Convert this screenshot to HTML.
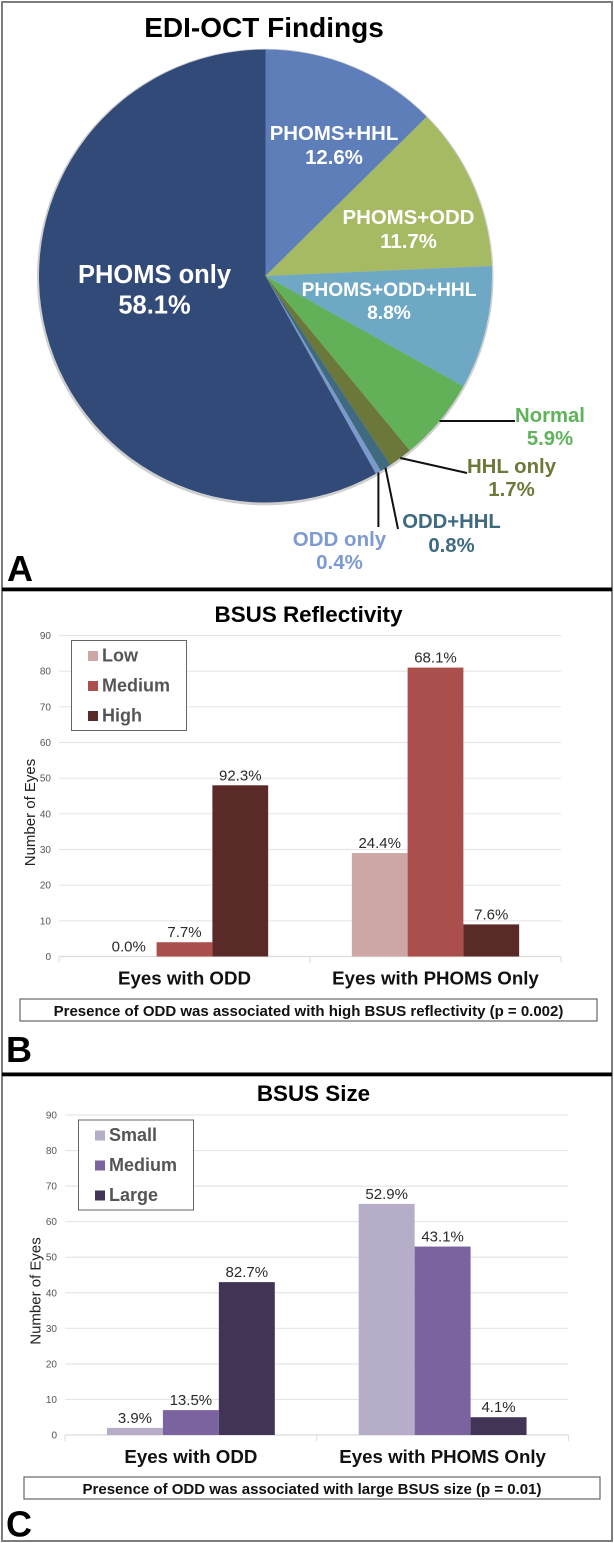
<!DOCTYPE html>
<html lang="en">
<head>
<meta charset="utf-8">
<title>EDI-OCT Findings and BSUS Charts</title>
<style>
html,body{margin:0;padding:0;background:#fff;width:614px;height:1543px;overflow:hidden}
svg{display:block;font-family:"Liberation Sans",sans-serif}
</style>
</head>
<body>
<svg id="figure" xmlns="http://www.w3.org/2000/svg" width="614" height="1543" viewBox="0 0 614 1543"></svg>
<script>
/* Pie data */
const pieNames = ["PHOMS+HHL","PHOMS+ODD","PHOMS+ODD+HHL","Normal","HHL only","ODD+HHL","ODD only","PHOMS only"];
const pieValues = [12.6,11.7,8.8,5.9,1.7,0.8,0.4,58.1];
const pieLabels = ["12.6%","11.7%","8.8%","5.9%","1.7%","0.8%","0.4%","58.1%"];

/* Panel B data */
const reflectivityCategories = ["Eyes with ODD","Eyes with PHOMS Only"];
const reflectivitySeriesNames = ["Low","Medium","High"];
const reflectivityLow = [0,29];
const reflectivityMedium = [4,81];
const reflectivityHigh = [48,9];
const reflectivityLowLabels = ["0.0%","24.4%"];
const reflectivityMediumLabels = ["7.7%","68.1%"];
const reflectivityHighLabels = ["92.3%","7.6%"];

/* Panel C data */
const sizeCategories = ["Eyes with ODD","Eyes with PHOMS Only"];
const sizeSeriesNames = ["Small","Medium","Large"];
const sizeSmall = [2,65];
const sizeMedium = [7,53];
const sizeLarge = [43,5];
const sizeSmallLabels = ["3.9%","52.9%"];
const sizeMediumLabels = ["13.5%","43.1%"];
const sizeLargeLabels = ["82.7%","4.1%"];

/* Shared axis */
const yTicks = [0,10,20,30,40,50,60,70,80,90];

const svg = document.getElementById('figure');
const NS = 'http://www.w3.org/2000/svg';

function make(tag, name, attrs, text) {
  const el = document.createElementNS(NS, tag);
  
  
  for (const k in attrs) el.setAttribute(k, attrs[k]);
  if (text !== undefined) el.textContent = text;
  svg.appendChild(el);
  return el;
}
function label(name, x, y, str, size, fill, weight, anchor) {
  return make('text', name, {x:x, y:y, 'font-size':size, fill:fill, 'font-weight':weight||'normal', 'text-anchor':anchor||'middle'}, str);
}

/* Frame */
make('rect','figure-frame',{x:2,y:2,width:610,height:1539,fill:'#fff',stroke:'#7d7d7d',"stroke-width":2});
make('rect','divider-a-b',{x:2,y:587.5,width:610,height:3.8,fill:'#000'});
make('rect','divider-b-c',{x:2,y:1072.5,width:610,height:3.8,fill:'#000'});
label('panel-letter-a',7,581,'A',36,'#000','bold','start');
label('panel-letter-b',6,1062,'B',36,'#000','bold','start');
label('panel-letter-c',6,1536.5,'C',36,'#000','bold','start');

/* Pie */
const cx = 265.5, cy = 276, radius = 226.5;
const pieColors = ['#5d7eb9','#a5ba62','#6ea8c5','#62b058','#6c7839','#3f6a80','#7a9acb','#324a78'];
const pieTotal = pieValues.reduce((a,b)=>a+b,0);
function angleOf(v){ return v / pieTotal * Math.PI * 2; }
function pointAt(a, r){ return [cx + r * Math.sin(a), cy - r * Math.cos(a)]; }

label('pie-title',264,37,'EDI-OCT Findings',28,'#000','bold');
make('circle','pie-rim',{cx:cx-0.3,cy:cy+1,r:radius+1.8,fill:'#cfcfcf'});
let running = 0;
const midAngles = [];
pieValues.forEach((v,i)=>{
  const a0 = angleOf(running), a1 = angleOf(running + v);
  running += v;
  midAngles.push((a0+a1)/2);
  const p0 = pointAt(a0,radius), p1 = pointAt(a1,radius);
  const large = (a1-a0) > Math.PI ? 1 : 0;
  make('path','pie-slice-'+pieNames[i].toLowerCase().replace(/[+ ]/g,'-'),{
    d:`M${cx} ${cy}L${p0[0]} ${p0[1]}A${radius} ${radius} 0 ${large} 1 ${p1[0]} ${p1[1]}Z`,
    fill:pieColors[i]
  });
});

/* Pie labels inside slices */
const insideLayout = {
  0:{x:334,y1:140,y2:164,s:20.4},
  1:{x:408.5,y1:224,y2:248,s:20.4},
  2:{x:389,y1:296,y2:319,s:19.2},
  7:{x:154.5,y1:283,y2:313.5,s:25.5}
};
Object.keys(insideLayout).forEach(k=>{
  const l = insideLayout[k], i = +k, slug = pieNames[i].toLowerCase().replace(/[+ ]/g,'-');
  label('pie-label-'+slug,l.x,l.y1,pieNames[i],l.s,'#fff','bold');
  label('pie-value-'+slug,l.x,l.y2,pieLabels[i],l.s,'#fff','bold');
});

/* Outside labels and leader lines */
const outsideLayout = {
  3:{x:550,y1:422,y2:445,s:20.3,color:'#5fb35a',end:[515,421],r:1.0},
  4:{x:511.5,y1:473,y2:496,s:20.4,color:'#6b7a3a',end:[467,473],r:1.0},
  5:{x:451.5,y1:528,y2:552,s:20.3,color:'#3f6a80',end:[398,529],r:0.998},
  6:{x:339.5,y1:546,y2:569,s:20.5,color:'#7d9bd0',end:[378.4,527],r:1.0}
};
Object.keys(outsideLayout).forEach(k=>{
  const l = outsideLayout[k], i = +k, slug = pieNames[i].toLowerCase().replace(/[+ ]/g,'-');
  const s = pointAt(midAngles[i], radius * l.r);
  make('line','leader-'+slug,{x1:i===6?l.end[0]:s[0],y1:i===3?l.end[1]:s[1],x2:l.end[0],y2:l.end[1],stroke:'#111','stroke-width':2});
  label('pie-label-'+slug,l.x,l.y1,pieNames[i],l.s,l.color,'bold');
  label('pie-value-'+slug,l.x,l.y2,pieLabels[i],l.s,l.color,'bold');
});

/* Bar chart renderer */
function drawBars(cfg){
  const p = cfg.prefix;
  const yScale = v => cfg.y0 - (v / 90) * (cfg.y0 - cfg.y90);
  const band = (cfg.x1 - cfg.x0) / cfg.categories.length;
  const bandCenter = i => cfg.x0 + band * (i + 0.5);
  const barW = band / 4.5;
  label(p+'-title',cfg.titleX,cfg.titleY,cfg.title,22.4,'#000','bold');

  yTicks.forEach(t=>{
    const y = yScale(t);
    if (t > 0) make('line',p+'-gridline-'+t,{x1:cfg.x0,x2:cfg.x1,y1:y,y2:y,stroke:'#e6e6e6','stroke-width':1.2});
    label(p+'-y-tick-'+t,cfg.x0-8,y+3.5,String(t),10,'#555','normal','end');
  });
  make('line',p+'-x-axis',{x1:cfg.x0,x2:cfg.x1,y1:yScale(0),y2:yScale(0),stroke:'#dcdcdc','stroke-width':1.2});
  for (let i=0;i<=cfg.categories.length;i++){
    const x = cfg.x0 + band*i;
    make('line',p+'-x-tick-'+i,{x1:x,x2:x,y1:yScale(0),y2:yScale(0)+6,stroke:'#dcdcdc','stroke-width':1});
  }
  make('text',p+'-y-axis-title',{x:cfg.yTitleX,y:cfg.yTitleY,'font-size':15,fill:'#222','text-anchor':'middle',transform:`rotate(-90 ${cfg.yTitleX} ${cfg.yTitleY})`},'Number of Eyes');

  cfg.series.forEach((vals,s)=>{
    vals.forEach((v,c)=>{
      const x = bandCenter(c) + (s - 1.5) * barW;
      const top = yScale(v);
      make('rect',p+'-bar-'+cfg.seriesNames[s].toLowerCase()+'-'+(c+1),{x:x,y:top,width:barW,height:yScale(0)-top,fill:cfg.colors[s]});
      label(p+'-bar-label-'+cfg.seriesNames[s].toLowerCase()+'-'+(c+1),x+barW/2,top-5,cfg.labels[s][c],15,'#2a2a2a');
    });
  });
  cfg.categories.forEach((name,c)=>{
    label(p+'-category-'+(c+1),bandCenter(c),yScale(0)+28,name,18.7,'#111','bold');
  });

  /* Legend */
  const L = cfg.legend;
  make('rect',p+'-legend-box',{x:L.x,y:L.y,width:115,height:90,fill:'#fff',stroke:'#666','stroke-width':1});
  cfg.seriesNames.forEach((n,i)=>{
    const ly = L.y + 15 + i*30;
    make('rect',p+'-legend-swatch-'+n.toLowerCase(),{x:L.x+L.swatch-0.5,y:ly-4.5,width:10,height:10,fill:cfg.colors[i]});
    label(p+'-legend-entry-'+n.toLowerCase(),L.x+L.swatch+13.5,ly+6,n,18,'#555','bold','start');
  });

  /* Note box */
  const N = cfg.note;
  make('rect',p+'-note-box',{x:N.x,y:N.y,width:N.w,height:22,fill:'#fff',stroke:'#666','stroke-width':1.2});
  label(p+'-note-text',N.x+N.w/2,N.y+17,cfg.noteText,15,'#111','bold');
}

drawBars({
  prefix:'reflectivity', title:'BSUS Reflectivity', titleX:308.5, titleY:622,
  x0:59, x1:561, y0:956.5, y90:635.5, yTitleX:35, yTitleY:812.5,
  categories:reflectivityCategories, seriesNames:reflectivitySeriesNames,
  series:[reflectivityLow,reflectivityMedium,reflectivityHigh],
  labels:[reflectivityLowLabels,reflectivityMediumLabels,reflectivityHighLabels],
  colors:['#cda7a5','#ab4f4d','#5a2a28'],
  legend:{x:71.5,y:640.5,swatch:17},
  note:{x:20,y:999,w:577},
  noteText:'Presence of ODD was associated with high BSUS reflectivity (p = 0.002)'
});

drawBars({
  prefix:'size', title:'BSUS Size', titleX:313.5, titleY:1101,
  x0:65, x1:568.5, y0:1435, y90:1115, yTitleX:40.5, yTitleY:1291,
  categories:sizeCategories, seriesNames:sizeSeriesNames,
  series:[sizeSmall,sizeMedium,sizeLarge],
  labels:[sizeSmallLabels,sizeMediumLabels,sizeLargeLabels],
  colors:['#b6aec8','#7b63a0','#413454'],
  legend:{x:78.5,y:1120,swatch:17},
  note:{x:24,y:1477,w:576},
  noteText:'Presence of ODD was associated with large BSUS size (p = 0.01)'
});
</script>
</body>
</html>
